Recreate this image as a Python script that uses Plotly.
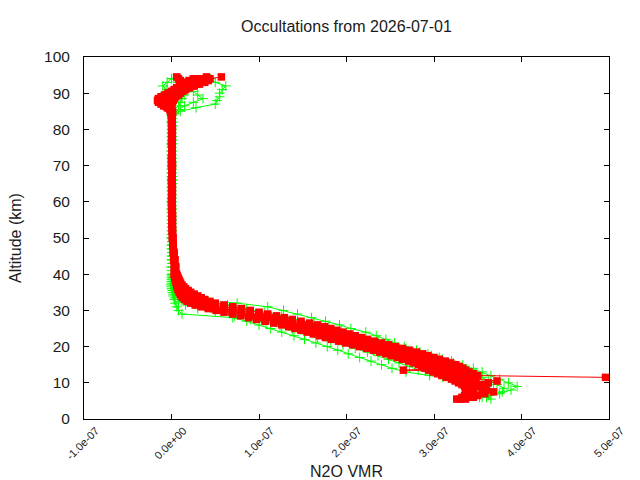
import plotly.graph_objects as go

# Altitude grids (km) for the green profiles
ALT_A = [6, 7, 8, 9, 10, 11, 12, 13, 14, 15, 16, 17, 18, 19, 20, 21, 22, 23, 24, 25,
         26, 27, 28, 29, 30, 31, 32, 33, 34, 35, 36, 37, 38, 39, 40,
         42, 44, 46, 48, 50, 52, 54, 56, 58, 60, 62, 64, 66, 68, 70, 72, 74, 76, 78, 80, 82, 84,
         85, 86, 87, 88, 89, 90, 91, 92, 93, 94]
ALT_B = [5.5, 6.5, 7.5, 8.5, 9.5, 10.5, 11.5, 12.5, 13.5, 14.5, 15.5, 16.5, 17.5, 18.5, 19.5,
         20.5, 21.5, 22.5, 23.5, 24.5, 25.5, 26.5, 27.5, 28.5, 29.5, 30.5, 31.5, 32.5, 33.5,
         34.5, 35.5, 36.5, 37.5, 38.5, 39.5,
         41, 43, 45, 47, 49, 51, 53, 55, 57, 59, 61, 63, 65, 67, 69, 71, 73, 75, 77, 79, 81, 83,
         84.5, 85.5, 86.5, 87.5, 88.5, 89.5, 90.5, 91.5, 92.5, 93.5]

# Altitude grid (km) for the red profiles
ALT_R = [5.5, 6, 6.5, 7, 7.5, 8, 8.5, 9, 9.5, 10, 10.5, 11, 11.5, 12, 12.5, 13, 13.5, 14,
         14.5, 15, 15.5, 16, 16.5, 17, 17.5, 18, 18.5, 19, 19.5, 20, 20.5, 21, 21.5, 22,
         22.5, 23, 23.5, 24, 24.5, 25, 25.5, 26, 26.5, 27, 27.5, 28, 28.5, 29, 29.5, 30,
         30.5, 31, 31.5, 32, 32.5, 33, 33.5, 34, 34.5, 35, 35.5, 36, 36.5, 37, 37.5, 38,
         38.5, 39, 39.5, 40,
         42, 44, 46, 48, 50, 52, 54, 56, 58, 60, 62, 64, 66, 68, 70, 72, 74, 76, 78, 80, 82, 84,
         84.5, 85, 85.5, 86, 86.5, 87, 87.5, 88, 88.5, 89, 89.5, 90, 90.5, 91, 91.5, 92, 92.5,
         93, 93.5, 94, 94.5]

# N2O VMR values in units of 1e-7
SCALE = 1e-7

R1 = [None, 3.32, 3.35, 3.37, 3.37, 3.37, 3.36, 3.35, 3.32, 3.28, 3.24, 3.2, 3.14, 3.09, 3.04,
      2.99, 2.94, 2.9, 2.86, 2.82, 2.77, 2.71, 2.64, 2.58, 2.51, 2.45, 2.38, 2.31, 2.23, 2.15,
      2.07, 1.99, 1.91, 1.83, 1.76, 1.69, 1.62, 1.55, 1.48, 1.41, 1.34, 1.26, 1.17, 1.07, 0.97,
      0.88, 0.79, 0.7, 0.6, 0.51, 0.42, 0.34, 0.27, 0.22, 0.18, 0.15, 0.13, 0.11, 0.1, 0.09,
      0.08, 0.07, 0.065, 0.06, 0.055, 0.05, 0.045, 0.04, 0.035, 0.03,
      0.03, 0.025, 0.02, 0.015, 0.01, 0.01, 0.005, 0.005, 0.0, 0.0, 0.005, 0.0, 0.0, 0.005,
      0.0, 0.0, 0.005, 0.0, 0.0, 0.005, 0.0, 0.0,
      0.0, 0.0, -0.02, -0.05, -0.09, -0.12, -0.15, -0.16, -0.15, -0.12, -0.08, -0.04, 0.0,
      0.03, 0.06, 0.09, 0.12, 0.15, 0.2, 0.25, None]
R2 = [3.26, 3.36, 3.39, 3.41, 3.41, 3.41, 3.4, 3.39, 3.36, 3.33, 3.3, 3.26, 3.21, 3.17, 3.13,
      3.09, 3.05, 3.01, 2.97, 2.93, 2.88, 2.82, 2.75, 2.69, 2.62, 2.56, 2.49, 2.41, 2.33, 2.25,
      2.17, 2.09, 2.01, 1.93, 1.86, 1.79, 1.72, 1.65, 1.58, 1.51, 1.44, 1.36, 1.27, 1.17, 1.07,
      0.98, 0.89, 0.79, 0.69, 0.59, 0.5, 0.41, 0.33, 0.27, 0.22, 0.18, 0.16, 0.13, 0.12, 0.1,
      0.095, 0.085, 0.075, 0.07, 0.062, 0.056, 0.05, 0.044, 0.04, 0.035,
      0.035, 0.025, 0.02, 0.015, 0.01, 0.01, 0.005, 0.005, 0.005, 0.0, 0.0, 0.005, 0.0, 0.005,
      0.0, 0.0, 0.005, 0.0, 0.005, 0.0, 0.0, 0.0,
      0.0, -0.01, -0.02, -0.04, -0.06, -0.09, -0.11, -0.12, -0.1, -0.06, -0.02, 0.02, 0.06,
      0.1, 0.14, 0.18, 0.22, 0.27, 0.32, 0.36, 0.4]
R3 = [3.3, 3.4, 3.42, 3.45, 3.45, 3.45, 3.45, 3.45, 3.42, 3.4, 3.38, 3.35, 3.31, 3.28, 3.24,
      3.2, 3.16, 3.13, 3.09, 3.05, 2.99, 2.93, 2.86, 2.8, 2.73, 2.67, 2.6, 2.52, 2.44, 2.36,
      2.28, 2.2, 2.12, 2.04, 1.97, 1.9, 1.83, 1.76, 1.69, 1.62, 1.55, 1.47, 1.38, 1.28, 1.18,
      1.09, 1.0, 0.9, 0.8, 0.7, 0.6, 0.5, 0.41, 0.33, 0.27, 0.22, 0.19, 0.16, 0.14, 0.12,
      0.11, 0.1, 0.09, 0.08, 0.072, 0.065, 0.058, 0.05, 0.045, 0.04,
      0.04, 0.03, 0.025, 0.02, 0.015, 0.01, 0.01, 0.01, 0.005, 0.005, 0.005, 0.005, 0.005,
      0.005, 0.005, 0.005, 0.005, 0.005, 0.005, 0.005, 0.005, 0.005,
      0.01, 0.01, 0.0, -0.01, -0.03, -0.05, -0.06, -0.05, -0.03, 0.0, 0.03, 0.06, 0.1,
      0.15, 0.2, 0.26, 0.32, 0.38, 0.42, 0.44, 0.57]
R4 = [3.36, 3.45, 3.5, 3.58, 3.68, 3.6, 3.55, 3.52, 3.55, 3.62, 3.72, 3.48, 3.42, 3.38, 3.34,
      3.3, 2.65, 3.23, 3.19, 3.15, 3.09, 3.03, 2.96, 2.9, 2.83, 2.77, 2.7, 2.62, 2.54, 2.46,
      2.38, 2.3, 2.22, 2.14, 2.07, 2.0, 1.93, 1.86, 1.79, 1.72, 1.65, 1.57, 1.48, 1.38, 1.28,
      1.19, 1.1, 1.0, 0.9, 0.8, 0.7, 0.6, 0.5, 0.41, 0.34, 0.29, 0.25, 0.21, 0.18, 0.16,
      0.14, 0.125, 0.11, 0.1, 0.09, 0.08, 0.07, 0.06, 0.055, 0.05,
      0.045, 0.035, 0.025, 0.02, 0.015, 0.01, 0.01, 0.01, 0.005, 0.005, 0.01, 0.005, 0.005,
      0.005, 0.01, 0.005, 0.005, 0.005, 0.005, 0.01, 0.005, 0.005,
      0.01, 0.01, 0.0, 0.0, -0.01, 0.0, 0.01, 0.02, 0.03, 0.05, 0.08, 0.1, 0.13,
      0.16, 0.2, 0.24, 0.28, 0.3, 0.3, 0.28, None]
R5 = [None, None, None, None, None, None, None, None, None, None, None, None, 4.96, 3.5, 3.45,
      3.4, 3.36, 3.33, 3.29, 3.25, 3.19, 3.13, 3.06, 3.0, 2.93, 2.87, 2.8, 2.72, 2.64, 2.56,
      2.48, 2.4, 2.32, 2.24, 2.17, 2.1, 2.03, 1.96, 1.89, 1.82, 1.75, 1.67, 1.58, 1.48, 1.38,
      1.29, 1.2, 1.1, 1.0, 0.9, 0.8, 0.7, 0.6, 0.5, 0.44, 0.38, 0.34, 0.3, 0.26, 0.22,
      0.19, 0.16, 0.14, 0.12, 0.105, 0.095, 0.085, 0.075, 0.068, 0.06,
      0.05, 0.04, 0.03, 0.02, 0.015, 0.01, 0.01, 0.01, 0.01, 0.005, 0.005, 0.01, 0.005, 0.005,
      0.01, 0.005, 0.005, 0.005, 0.01, 0.005, 0.005, 0.0,
      0.0, 0.0, -0.01, -0.03, -0.06, -0.09, -0.12, -0.14, -0.13, -0.1, -0.06, -0.02, 0.02,
      0.05, 0.08, 0.1, 0.12, 0.12, 0.1, 0.08, 0.06]

G1 = [3.6, 3.75, 3.88, 3.95, 3.85, 3.75, 3.65, 3.55, 3.45, 3.33, 3.2, 3.06, 2.93, 2.8, 2.66,
      2.55, 2.45, 2.34, 2.22, 2.05, 1.92, 1.76, 1.6, 1.44, 1.28, 1.1, 0.75, 0.15, 0.08, 0.05,
      0.04, 0.03, 0.02, 0.02, 0.015,
      0.015, 0.01, 0.01, 0.01, 0.005, 0.01, 0.005, 0.005, 0.01, 0.005, 0.005, 0.005, 0.01,
      0.005, 0.005, 0.005, 0.005, 0.01, 0.005, 0.005, 0.01, 0.02,
      0.1, 0.28, 0.5, 0.52, 0.55, 0.55, 0.58, 0.62, 0.5, 0.45]
G2 = [None, 3.62, 3.78, 3.8, 3.72, 3.62, 3.55, 3.48, 3.4, 3.32, 3.22, 3.1, 2.97, 2.84, 2.68,
      2.52, 2.37, 2.22, 2.08, 1.94, 1.8, 1.63, 1.44, 1.26, 1.06, 0.86, 0.64, 0.42, 0.25, 0.14,
      0.08, 0.05, 0.04, 0.03, 0.025,
      0.02, 0.015, 0.01, 0.01, 0.005, 0.005, 0.005, 0.01, 0.005, 0.005, 0.005, 0.005, 0.005,
      0.01, 0.005, 0.005, 0.005, 0.005, 0.005, 0.005, 0.01, 0.01,
      0.03, 0.08, 0.15, 0.25, 0.36, 0.3, 0.25, 0.2, 0.2, 0.21]
G3 = [3.52, 3.62, 3.68, 3.6, 3.5, 3.42, 3.34, 3.25, 3.15, 3.02, 2.88, 2.75, 2.6, 2.45, 2.3,
      2.15, 1.99, 1.85, 1.7, 1.56, 1.4, 1.22, 1.02, 0.82, 0.62, 0.42, 0.25, 0.14, 0.08, 0.05,
      0.035, 0.025, 0.02, 0.015, 0.01,
      0.01, 0.005, 0.005, 0.005, 0.0, 0.005, 0.0, 0.005, 0.0, 0.0, 0.005, 0.0, 0.005, 0.0,
      0.0, 0.005, 0.0, 0.0, 0.005, 0.0, 0.0, 0.0,
      0.0, -0.03, -0.06, -0.04, 0.0, 0.05, 0.1, 0.12, 0.08, 0.02]
G4 = [3.65, 3.6, 3.55, 3.5, 3.4, 3.25, 3.1, 2.95, 2.82, 2.72, 2.6, 2.48, 2.36, 2.24, 2.1,
      1.96, 1.82, 1.67, 1.52, 1.38, 1.24, 1.08, 0.9, 0.72, 0.5, 0.3, 0.16, 0.08, 0.04, 0.02,
      0.01, 0.0, 0.0, 0.0, 0.0,
      0.0, 0.005, 0.0, 0.0, 0.005, 0.0, 0.005, 0.0, 0.0, 0.005, 0.0, 0.0, 0.005, 0.0, 0.0,
      0.005, 0.0, 0.0, 0.005, 0.0, 0.005, 0.005,
      0.01, 0.03, 0.08, 0.1, 0.12, 0.15, 0.18, 0.22, 0.3, 0.4]
G5 = [3.55, 3.6, 3.62, 3.58, 3.5, 3.3, 2.95, 2.68, 2.52, 2.4, 2.28, 2.15, 2.02, 1.9, 1.78,
      1.65, 1.52, 1.4, 1.26, 1.13, 1.0, 0.86, 0.7, 0.12, 0.08, 0.06, 0.04, 0.03, 0.02, 0.01,
      0.0, -0.01, 0.0, 0.0, 0.0,
      0.0, 0.0, 0.005, 0.0, 0.0, 0.0, 0.005, 0.0, 0.0, 0.0, 0.005, 0.0, 0.0, 0.0, 0.005,
      0.0, 0.0, 0.0, 0.0, 0.005, 0.0, 0.0,
      0.0, -0.02, -0.05, -0.08, -0.1, -0.08, -0.05, -0.1, -0.05, 0.0]

GREEN_PROFILES = [(ALT_A, G1), (ALT_B, G2), (ALT_A, G3), (ALT_B, G4), (ALT_A, G5)]
RED_PROFILES = [(ALT_R, R1), (ALT_R, R2), (ALT_R, R3), (ALT_R, R4), (ALT_R, R5)]

X_TICKS = [-1, 0, 1, 2, 3, 4, 5]
X_TICK_LABELS = ["-1.0e-07", "0.0e+00", "1.0e-07", "2.0e-07", "3.0e-07", "4.0e-07", "5.0e-07"]
Y_TICKS = [0, 10, 20, 30, 40, 50, 60, 70, 80, 90, 100]

GREEN = "#00ff00"
RED = "#ff0000"
FONT = "Liberation Sans, Arial, sans-serif"


def scaled(vals):
    return [None if v is None else v * SCALE for v in vals]


def pair(alts, vals):
    n = min(len(alts), len(vals))
    return alts[:n], vals[:n]


fig = go.Figure()
for alts, vals in GREEN_PROFILES:
    a, v = pair(alts, vals)
    fig.add_trace(go.Scatter(
        x=scaled(v), y=a, mode="lines+markers",
        line=dict(color=GREEN, width=1),
        marker=dict(symbol="cross-thin", size=7, line=dict(color=GREEN, width=1)),
        showlegend=False, hoverinfo="skip"))
for alts, vals in RED_PROFILES:
    a, v = pair(alts, vals)
    fig.add_trace(go.Scatter(
        x=scaled(v), y=a, mode="lines+markers",
        line=dict(color=RED, width=1),
        marker=dict(symbol="square", size=7.5, color=RED, line=dict(width=0)),
        showlegend=False, hoverinfo="skip"))

fig.update_layout(
    template="none",
    width=640, height=480,
    margin=dict(l=84, r=31, t=57, b=61, pad=0),
    paper_bgcolor="white", plot_bgcolor="white",
    font=dict(family=FONT, size=16, color="#1a1a1a"),
    title=dict(text="Occultations from 2026-07-01", x=0.5, xref="paper", xanchor="center",
               y=1 - 26 / 480, yref="container", yanchor="middle",
               font=dict(family=FONT, size=16, color="#1a1a1a")),
    showlegend=False,
)
fig.update_xaxes(
    range=[-1e-7, 5e-7], tickmode="array",
    tickvals=[t * SCALE for t in X_TICKS], ticktext=X_TICK_LABELS,
    tickangle=-45, tickfont=dict(family=FONT, size=11, color="#1a1a1a"),
    ticks="inside", ticklen=5, tickcolor="black", tickwidth=1,
    showline=True, linecolor="black", linewidth=1, mirror="ticks",
    showgrid=False, zeroline=False, automargin=False, ticklabelshift=12,
    title=dict(text="N2O VMR", font=dict(family=FONT, size=16, color="#1a1a1a"), standoff=4),
)
fig.update_yaxes(
    range=[0, 100], tickmode="array", tickvals=Y_TICKS,
    tickfont=dict(family=FONT, size=15.5, color="#1a1a1a"),
    ticks="inside", ticklen=5, tickcolor="black", tickwidth=1,
    showline=True, linecolor="black", linewidth=1, mirror="ticks",
    showgrid=False, zeroline=False, automargin=False, ticklabelstandoff=10,
    title=dict(text="Altitude (km)", font=dict(family=FONT, size=16, color="#1a1a1a"), standoff=18),
)

fig.write_html("out.html")
